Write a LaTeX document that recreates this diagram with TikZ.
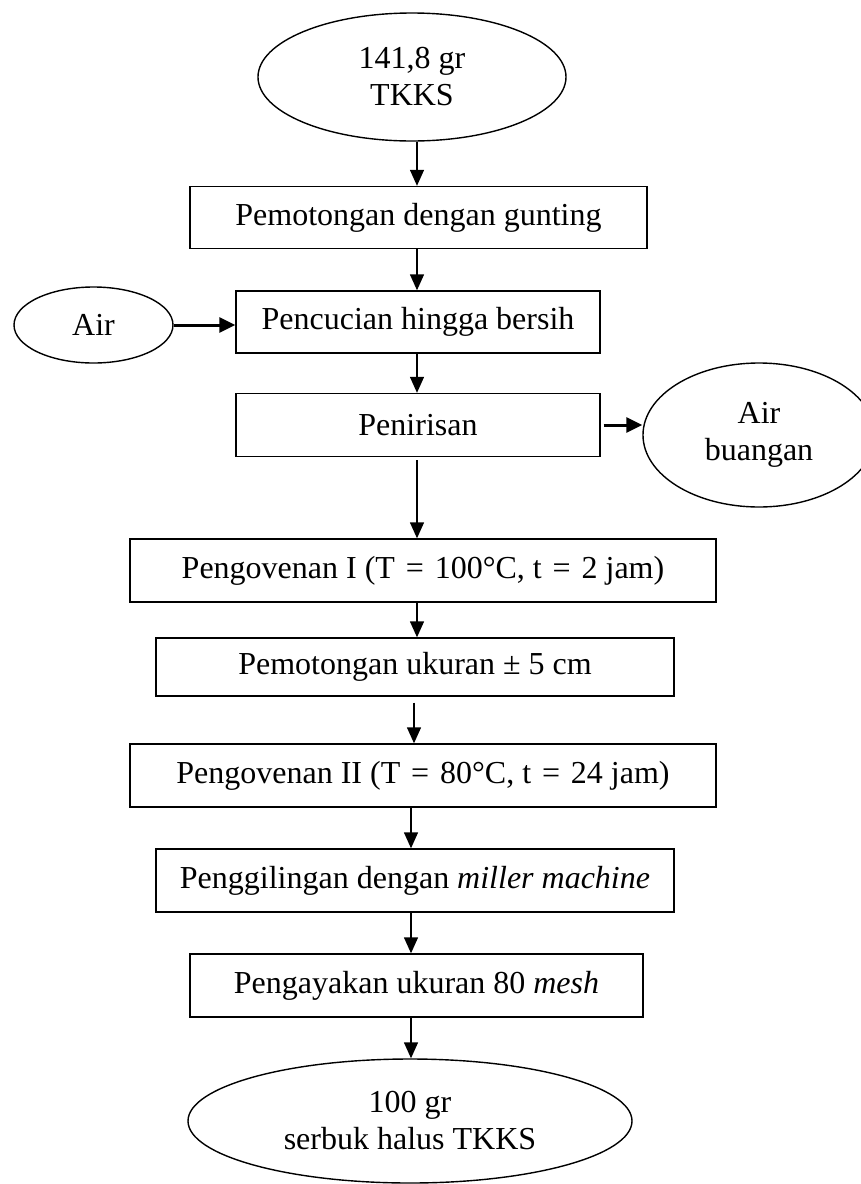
\documentclass[tikz,border=0pt]{standalone}
\usepackage{fontspec}
\setmainfont{Liberation Serif}
\usetikzlibrary{arrows.meta,shapes.geometric}
\newcommand{\eqsp}{\hspace{0.34em}=\hspace{0.34em}}
\begin{document}
\begin{tikzpicture}[x=1pt,y=-1pt,
  txt/.style={font=\fontsize{32}{37}\selectfont, inner sep=0pt, align=center},
  procbox/.style={txt, draw, rectangle, line width=1.4pt},
  oval/.style={txt, draw, ellipse, line width=1.4pt},
  arr/.style={line width=1.4pt, -{Triangle[length=16pt,width=14pt]}},
  sidearr/.style={line width=3pt, -{Triangle[length=16pt,width=15pt]}}]
\fill[white] (0,0) rectangle (860,1184);
\useasboundingbox (0,0) rectangle (860,1184);

\node[oval, minimum width=308pt, minimum height=128pt] (top) at (412,77) {141,8 gr\\TKKS};
\node[procbox, minimum width=457pt, minimum height=62pt] (b1) at (418.5,217.5) {Pemotongan dengan gunting};
\node[procbox, minimum width=364pt, minimum height=62pt] (b2) at (418,322) {Pencucian hingga bersih};
\node[oval, minimum width=159pt, minimum height=76pt] (air) at (93.5,325) {Air};
\node[procbox, minimum width=364pt, minimum height=63pt] (b3) at (418,425) {Penirisan};
\node[oval, minimum width=232pt, minimum height=144pt] (buang) at (759,435) {Air\\buangan};
\node[procbox, minimum width=586pt, minimum height=63pt] (b4) at (423,570.5) {Pengovenan I (T\eqsp100°C, t\eqsp2 jam)};
\node[procbox, minimum width=518pt, minimum height=58pt] (b5) at (415,667) {Pemotongan ukuran ± 5 cm};
\node[procbox, minimum width=586pt, minimum height=63pt] (b6) at (423,775.5) {Pengovenan II (T\eqsp80°C, t\eqsp24 jam)};
\node[procbox, minimum width=518pt, minimum height=63pt] (b7) at (415,880.5) {Penggilingan dengan \textit{miller machine}};
\node[procbox, minimum width=453pt, minimum height=63pt] (b8) at (416.5,985.5) {Pengayakan ukuran 80 \textit{mesh}};
\node[oval, minimum width=444pt, minimum height=124pt] (bot) at (410,1121) {100 gr\\serbuk halus TKKS};

\coordinate (ax) at (417,0);
\coordinate (cx) at (414,0);
\coordinate (bx) at (411,0);

\draw[arr] (ax |- top.south) -- (ax |- b1.north);
\draw[arr] (ax |- b1.south) -- (ax |- b2.north);
\draw[arr] (ax |- b2.south) -- (ax |- b3.north);
\draw[arr] ([yshift=-3pt]b3.south -| ax) -- (ax |- b4.north);
\draw[arr] (ax |- b4.south) -- (ax |- b5.north);
\draw[arr] ([yshift=-6pt]b5.south -| cx) -- (cx |- b6.north);
\draw[arr] (bx |- b6.south) -- (bx |- b7.north);
\draw[arr] (bx |- b7.south) -- (bx |- b8.north);
\draw[arr] (bx |- b8.south) -- (bx |- bot.north);

\draw[sidearr] (air.east) -- (air.east -| b2.west);
\draw[sidearr] ([xshift=3pt]b3.east) -- (b3.east -| buang.west);
\end{tikzpicture}
\end{document}
